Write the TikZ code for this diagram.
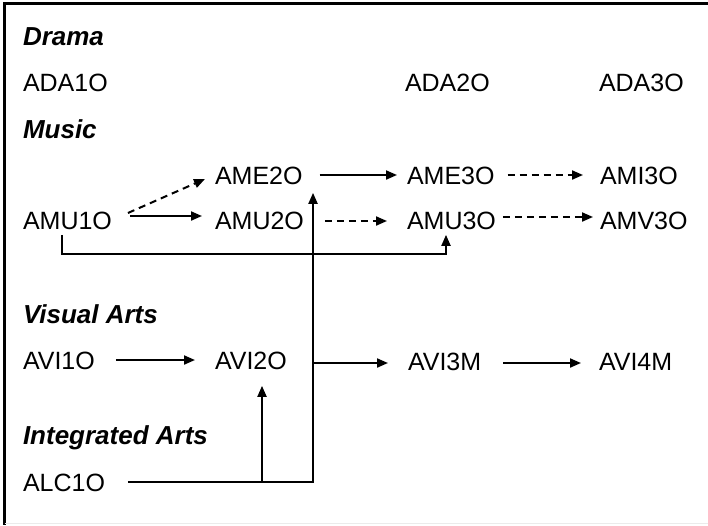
\documentclass[tikz,border=0pt]{standalone}
\usepackage{fontspec}
\setmainfont{Liberation Sans}
\usetikzlibrary{arrows.meta,calc}

\begin{document}
\begin{tikzpicture}[x=1pt,y=-1pt,
  course/.style={anchor=west,inner sep=0pt,outer sep=0pt,
    font=\fontsize{25}{30}\selectfont},
  heading/.style={course,font=\fontsize{26}{31}\selectfont\bfseries\itshape},
  link/.style={line width=2pt,-{Triangle[length=11pt,width=9pt]}},
  optlink/.style={link,dash pattern=on 7pt off 5pt}]

  \useasboundingbox (0,0) rectangle (708,525);

  % frame
  \draw[line width=2.2pt] (708,3.5) -- (4.5,3.5) -- (4.5,525);
  \draw[black!8,line width=1pt] (4.5,523.5) -- (708,523.5);

  % Drama
  \node[heading] (drama) at (23,37) {Drama};
  \node[course] (ada1) at (23,83) {ADA1O};
  \node[course] (ada2) at (405,83) {ADA2O};
  \node[course] (ada3) at (599,83) {ADA3O};

  % Music
  \node[heading] (music) at (23,129) {Music};
  \node[course] (ame2) at (215,176) {AME2O};
  \node[course] (ame3) at (407,176) {AME3O};
  \node[course] (ami3) at (600,176) {AMI3O};
  \node[course] (amu1) at (23,221) {AMU1O};
  \node[course] (amu2) at (215,221) {AMU2O};
  \node[course] (amu3) at (407,221) {AMU3O};
  \node[course] (amv3) at (600,221) {AMV3O};

  % Visual Arts
  \node[heading] (visual) at (23,314) {Visual Arts};
  \node[course] (avi1) at (23,361) {AVI1O};
  \node[course] (avi2) at (215,361) {AVI2O};
  \node[course] (avi3) at (408,362) {AVI3M};
  \node[course] (avi4) at (599,362) {AVI4M};

  % Integrated Arts
  \node[heading] (integrated) at (23,438) {Integrated Arts};
  \node[course] (alc1) at (23,483) {ALC1O};

  % music pathways
  \draw[optlink] ($(amu1.east)+(16,-8)$) -- ($(ame2.west)+(-10,3)$);
  \draw[link] ($(amu1.east)+(18,-5)$) -- ($(amu2.west)+(-13,-5)$);
  \draw[link] ($(amu1.south west)+(39,5)$) -- ++(0,19)
    -| ($(amu3.south west)+(39,5)$);
  \draw[link] ($(ame2.east)+(17,-1)$) -- ($(ame3.west)+(-10,-1)$);
  \draw[optlink] ($(ame3.east)+(13,-1)$) -- ($(ami3.west)+(-17,-1)$);
  \draw[optlink] ($(amu2.east)+(21,0)$) -- ($(amu3.west)+(-20,0)$);
  \draw[optlink] ($(amu3.east)+(7,-4)$) -- ($(amv3.west)+(-7,-4)$);

  % visual arts pathways
  \draw[link] ($(avi1.east)+(21,-1)$) -- ($(avi2.west)+(-20,-1)$);
  \draw[link] ($(avi3.east)+(22,1)$) -- ($(avi4.west)+(-18,1)$);

  % integrated arts feeds
  \coordinate (ja) at (262,482);
  \coordinate (jb) at (313,363);
  \draw[link] ($(alc1.east)+(23,-1)$) -| ($(ame2.south east)+(10.5,8)$);
  \draw[link] (ja) -- ($(ja |- avi2.south)+(0,16)$);
  \draw[link] (jb) -- ($(avi3.west)+(-20,1)$);
\end{tikzpicture}
\end{document}
